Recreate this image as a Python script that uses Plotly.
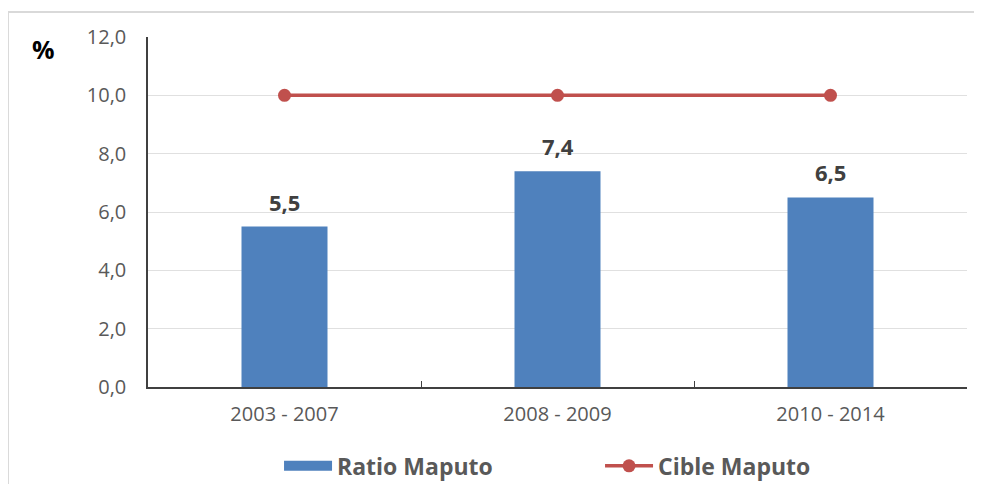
import plotly.graph_objects as go

categories = ["2003 - 2007", "2008 - 2009", "2010 - 2014"]
ratio_maputo = [5.5, 7.4, 6.5]
cible_maputo = [10.0, 10.0, 10.0]
y_ticks = [0, 2, 4, 6, 8, 10, 12]
y_tick_labels = ["0,0", "2,0", "4,0", "6,0", "8,0", "10,0", "12,0"]
bar_labels = [f"{v:.1f}".replace(".", ",") for v in ratio_maputo]

FONT = "'Open Sans', Lato, sans-serif"
BLUE = "#4F81BD"
RED = "#C0504D"

fig = go.Figure()
fig.add_trace(go.Bar(
    x=categories, y=ratio_maputo, name="Ratio Maputo",
    marker=dict(color=BLUE, line=dict(width=0)),
    width=0.315, showlegend=False,
))
# legend swatch for the bars (wide rectangle like the reference)
fig.add_trace(go.Scatter(
    x=[None], y=[None], name="Ratio Maputo", mode="lines",
    line=dict(color=BLUE, width=12), showlegend=True,
))
fig.add_trace(go.Scatter(
    x=categories, y=cible_maputo, name="Cible Maputo",
    mode="lines+markers",
    line=dict(color=RED, width=3.5),
    marker=dict(color=RED, size=13),
))

annotations = [dict(
    x=c, y=v, text=t, xref="x", yref="y", showarrow=False,
    yanchor="bottom", yshift=8,
    font=dict(family=FONT, size=22, color="#404040", weight="bold"),
) for c, v, t in zip(categories, ratio_maputo, bar_labels)]
annotations.append(dict(
    text="%", xref="paper", yref="paper", x=-0.127, y=0.965,
    xanchor="center", yanchor="middle", showarrow=False,
    font=dict(family=FONT, size=25, color="#000000", weight="bold"),
))

fig.update_layout(
    width=966, height=476,
    margin=dict(l=140, r=7, t=29, b=97),
    paper_bgcolor="white", plot_bgcolor="white",
    font=dict(family=FONT, color="#595959"),
    showlegend=True,
    legend=dict(
        orientation="h", x=0.16, xanchor="left",
        yref="container", y=0.038, yanchor="middle",
        font=dict(family=FONT, size=23, color="#595959", weight="bold"),
        itemwidth=48, traceorder="normal", entrywidth=258,
    ),
    xaxis=dict(
        showgrid=False, showline=True, linecolor="#404040", linewidth=1.5,
        ticks="inside", tickson="boundaries", ticklen=6, tickcolor="#404040",
        tickfont=dict(family=FONT, size=20, color="#595959"),
        ticklabelstandoff=8,
    ),
    yaxis=dict(
        range=[0, 12], tickvals=y_ticks, ticktext=y_tick_labels,
        showgrid=True, gridcolor="#E0E0E0", gridwidth=1,
        showline=True, linecolor="#404040", linewidth=1.5,
        zeroline=False,
        tickfont=dict(family=FONT, size=20, color="#595959"),
        ticks="", ticklabelstandoff=16,
    ),
    shapes=[dict(
        type="rect", xref="paper", yref="paper",
        x0=-0.171, x1=1.05, y0=-0.35, y1=1.0714,
        line=dict(color="#D9D9D9", width=2), fillcolor="rgba(0,0,0,0)",
        layer="below",
    )],
    annotations=annotations,
)

fig.write_html("out.html")
